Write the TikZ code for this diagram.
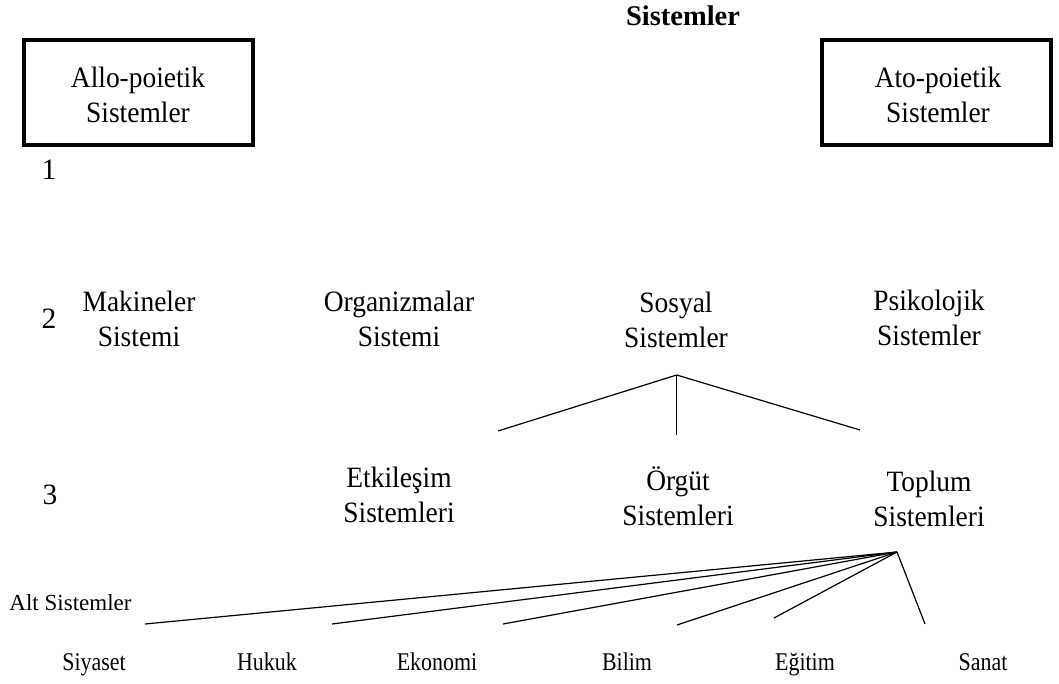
\documentclass[tikz,border=0pt]{standalone}
\usepackage{fontspec}
\setmainfont[FakeStretch=0.93]{Liberation Serif}
\newfontfamily\plainserif{Liberation Serif}
\newfontfamily\narrowserif[FakeStretch=0.86]{Liberation Serif}
% two-line label whose reference point is the baseline of its last line
\newcommand{\twolines}[2]{\begin{tabular}[b]{@{}c@{}}#1\\#2\end{tabular}}
\begin{document}
\begin{tikzpicture}[x=1pt,y=-1pt,
  lbl/.style={anchor=base,inner sep=0pt,font=\fontsize{29.5}{35}\selectfont},
  sub/.style={anchor=base,inner sep=0pt,font=\narrowserif\fontsize{25.5}{30}\selectfont},
  num/.style={anchor=base,inner sep=0pt,font=\plainserif\fontsize{29.5}{34}\selectfont},
  framebox/.style={draw,line width=4pt,minimum width=229pt,minimum height=105pt,inner sep=0pt},
  link/.style={line width=1.2pt}]
\useasboundingbox (0,0) rectangle (1059,684);

% heading
\node[anchor=base,inner sep=0pt,font=\plainserif\bfseries\fontsize{28.5}{34}\selectfont] (title) at (683,26) {Sistemler};

% level 1
\node[framebox] (allo) at (138,92.5) {};
\node[lbl] (allotext) at (138,123) {\twolines{Allo-poietik}{Sistemler}};
\node[framebox] (ato) at (936.5,92.5) {};
\node[lbl] (atotext) at (938,123) {\twolines{Ato-poietik}{Sistemler}};
\node[num] (n1) at (49,180) {1};

% level 2
\node[num] (n2) at (49,328) {2};
\node[lbl] (mak) at (139,346) {\twolines{Makineler}{Sistemi}};
\node[lbl] (org) at (399,346) {\twolines{Organizmalar}{Sistemi}};
\node[lbl] (sos) at (676,347) {\twolines{Sosyal}{Sistemler}};
\node[lbl] (psi) at (929,345) {\twolines{Psikolojik}{Sistemler}};

% level 3
\node[num] (n3) at (50,504) {3};
\node[lbl] (etk) at (399,522) {\twolines{Etkileşim}{Sistemleri}};
\node[lbl] (orgut) at (678,525) {\twolines{Örgüt}{Sistemleri}};
\node[lbl] (top) at (929,526) {\twolines{Toplum}{Sistemleri}};

% sub-systems
\node[anchor=base,inner sep=0pt,font=\plainserif\fontsize{23}{28}\selectfont] (alt) at (70.5,610) {Alt Sistemler};
\node[sub] (siy) at (94,670) {Siyaset};
\node[sub] (huk) at (267,670) {Hukuk};
\node[sub] (eko) at (437,670) {Ekonomi};
\node[sub] (bil) at (627,670) {Bilim};
\node[sub] (egi) at (805,670) {Eğitim};
\node[sub] (san) at (983,670) {Sanat};

% branch points and line ends
\coordinate (sosroot) at (676.7,375);
\coordinate (etkend) at (498,431);
\coordinate (orgend) at (676.7,435);
\coordinate (topend) at (860,430);
\coordinate (toproot) at (897,552);
\coordinate (siyend) at (145,624);
\coordinate (hukend) at (332,624);
\coordinate (ekoend) at (503,624);
\coordinate (bilend) at (677,625);
\coordinate (egiend) at (774,618);
\coordinate (sanend) at (925,624);

% social systems branch
\draw[link] (sosroot) -- (etkend);
\draw[link] (sosroot) -- (orgend);
\draw[link] (sosroot) -- (topend);

% society systems fan
\draw[link] (toproot) -- (siyend);
\draw[link] (toproot) -- (hukend);
\draw[link] (toproot) -- (ekoend);
\draw[link] (toproot) -- (bilend);
\draw[link] (toproot) -- (egiend);
\draw[link] (toproot) -- (sanend);
\end{tikzpicture}
\end{document}
